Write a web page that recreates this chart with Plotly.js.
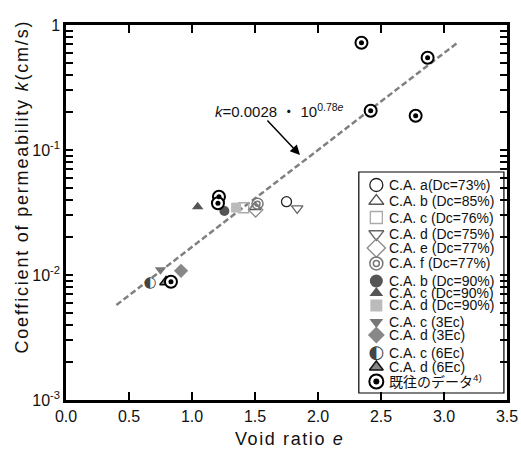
<!DOCTYPE html>
<html><head><meta charset="utf-8">
<script src="https://cdn.plot.ly/plotly-3.0.1.min.js"></script>
<style>html,body{margin:0;padding:0;background:#fff}</style>
</head><body><div id="chart" style="width:521px;height:450px"></div>
<script>
// ---- data (void ratio e, permeability k in cm/s) ----
const e_a73=[1.75],  k_a73=[0.0386];
const e_b85=[1.50],  k_b85=[0.0350];
const e_c76=[1.41],  k_c76=[0.0345];
const e_d75=[1.835], k_d75=[0.0341];
const e_e77=[1.505], k_e77=[0.0332];
const e_f77=[1.52],  k_f77=[0.0372];
const e_b90=[1.257], k_b90=[0.0325];
const e_c90=[1.045], k_c90=[0.0352];
const e_d90=[1.35],  k_d90=[0.0346];
const e_c3=[0.75],   k_c3=[0.0110];
const e_d3=[0.913],  k_d3=[0.0108];
const e_c6=[0.667],  k_c6=[0.0086];
const e_d6=[0.794],  k_d6=[0.0088];
const e_hist=[2.345,2.87,2.418,2.775,1.214,1.206,0.833];
const k_hist=[0.722,0.547,0.206,0.188,0.0423,0.0375,0.00884];
const e_fit=[0.4,3.1], k_fit=[0.00575,0.713];

const seriesNames=['C.A. a(Dc=73%)','C.A. b (Dc=85%)','C.A. c (Dc=76%)','C.A. d (Dc=75%)','C.A. e (Dc=77%)','C.A. f (Dc=77%)','C.A. b (Dc=90%)','C.A. c (Dc=90%)','C.A. d (Dc=90%)','C.A. c (3Ec)','C.A. d (3Ec)','C.A. c (6Ec)','C.A. d (6Ec)','既往のデータ<sup>4)</sup>'];
const xTickVals=[0,0.5,1,1.5,2,2.5,3,3.5];
const yDecades=[0.001,0.01,0.1];
const yDecadeLabels=['10<sup>-3</sup>','10<sup>-2</sup>','10<sup>-1</sup>'];
const yTopLabel='1';
const yMinorDigits=[2,3,4,5,6,7,8,9];
const fitLabel='<i>k</i>=0.0028 ・ 10<sup>0.78<i>e</i></sup>';

// ---- styles ----
const FONT='Liberation Sans, Arial, Noto Sans CJK JP, sans-serif';
const S=[
 {xs:e_a73,ys:k_a73,layers:[{sym:'circle-open',c:'#222',s:10,ls:13,w:1.3}]},
 {xs:e_b85,ys:k_b85,layers:[{sym:'triangle-up-open',c:'#555',s:10,ls:13,w:1.3}]},
 {xs:e_c76,ys:k_c76,layers:[{sym:'square-open',c:'#aaa',s:10,ls:12,w:1.3}]},
 {xs:e_d75,ys:k_d75,layers:[{sym:'triangle-down-open',c:'#666',s:10,ls:13,w:1.3}]},
 {xs:e_e77,ys:k_e77,layers:[{sym:'diamond-open',c:'#888',s:11,ls:14,w:1.3}]},
 {xs:e_f77,ys:k_f77,layers:[{sym:'circle-open',c:'#777',s:11,ls:13,w:1.5},{sym:'circle-open',c:'#777',s:5,ls:6,w:1.5}]},
 {xs:e_b90,ys:k_b90,layers:[{sym:'circle',c:'#555',s:10,ls:13}]},
 {xs:e_c90,ys:k_c90,layers:[{sym:'triangle-up',c:'#555',s:10,ls:12}]},
 {xs:e_d90,ys:k_d90,layers:[{sym:'square',c:'#bbb',s:10,ls:12}]},
 {xs:e_c3,ys:k_c3,layers:[{sym:'triangle-down',c:'#777',s:10,ls:12}]},
 {xs:e_d3,ys:k_d3,layers:[{sym:'diamond',c:'#888',s:11,ls:13}]},
 {xs:e_c6,ys:k_c6,layers:[{txt:'◐',c:'#444',s:15,ls:18}]},
 {xs:e_d6,ys:k_d6,layers:[{sym:'triangle-up',c:'#888',s:11,ls:12,lc:'#111',w:1.5}]},
 {xs:e_hist,ys:k_hist,layers:[{sym:'circle',c:'#fff',s:12,ls:14,lc:'#000',w:2},{sym:'circle',c:'#000',s:5,ls:6}]}
];
// legend layout (pixels inside legend box)
const legendRowPx=[13,29,45.5,62,76,91.5,109,121,133.5,150,163,181.5,195,209.5];
const legendKeyX=17.5, legendTextX=28;

function layerTrace(xs,ys,L,big,xa,ya){
  const size=big?L.ls:L.s;
  if(L.txt){
    return {x:xs,y:ys,xaxis:xa,yaxis:ya,mode:'text',text:xs.map(()=>L.txt),
      textposition:'middle center',textfont:{family:'DejaVu Sans',size:size,color:L.c},
      showlegend:false,hoverinfo:'skip',cliponaxis:false};
  }
  const m={symbol:L.sym,size:size,color:L.c};
  if(L.sym.indexOf('open')>=0) m.line={width:L.w||1.3,color:L.c};
  else if(L.lc) m.line={width:L.w,color:L.lc};
  else m.line={width:0};
  return {x:xs,y:ys,xaxis:xa,yaxis:ya,mode:'markers',marker:m,showlegend:false,hoverinfo:'skip',cliponaxis:false};
}

// y ticks: decades labelled, minor ticks unlabeled
const yTickVals=[], yTickText=[];
yDecades.forEach((d,i)=>{
  yTickVals.push(d); yTickText.push(yDecadeLabels[i]);
  yMinorDigits.forEach(m=>{yTickVals.push(d*m); yTickText.push('');});
});
yTickVals.push(1); yTickText.push(yTopLabel);

const traces=[];
traces.push({x:e_fit,y:k_fit,mode:'lines',line:{color:'#808080',width:2.5,dash:'6px,3px'},showlegend:false,hoverinfo:'skip'});
S.forEach(st=>st.layers.forEach(L=>traces.push(layerTrace(st.xs,st.ys,L,false,'x','y'))));
const annotations=[];
S.forEach((st,i)=>{
  st.layers.forEach(L=>traces.push(layerTrace([legendKeyX],[legendRowPx[i]],L,true,'x2','y2')));
  annotations.push({xref:'x2',yref:'y2',x:legendTextX,y:legendRowPx[i],xanchor:'left',yanchor:'middle',
    text:seriesNames[i],showarrow:false,font:{family:FONT,size:14,color:'#111'}});
});

annotations.push({xref:'paper',yref:'paper',x:0.483,y:0.772,xanchor:'center',yanchor:'middle',showarrow:false,
  text:fitLabel,font:{family:FONT,size:15,color:'#111'}});
annotations.push({xref:'x',yref:'y',x:1.857,y:-1.04,ax:-34,ay:-36,text:'',showarrow:true,arrowhead:2,arrowsize:1.3,arrowwidth:1.5,arrowcolor:'#000'});
annotations.push({xref:'paper',yref:'paper',x:0.506,y:-0.105,xanchor:'center',yanchor:'middle',showarrow:false,
  text:'<span style="letter-spacing:1.6px">Void ratio <i>e</i></span>',font:{family:FONT,size:18,color:'#111'}});
annotations.push({xref:'paper',yref:'paper',x:-0.1,y:0.569,xanchor:'center',yanchor:'middle',showarrow:false,textangle:-90,
  text:'<span style="letter-spacing:1.8px">Coefficient of permeability <i>k</i>(cm/s)</span>',font:{family:FONT,size:18,color:'#111'}});

const layout={
  width:521,height:450,margin:{l:66,r:14,t:25,b:50},
  paper_bgcolor:'#fff',plot_bgcolor:'rgba(0,0,0,0)',showlegend:false,
  font:{family:FONT,color:'#111'},
  xaxis:{range:[0,3.5],tickvals:xTickVals,tickformat:'.1f',ticks:'inside',ticklen:8,tickwidth:1.5,tickcolor:'#000',
    showline:true,linewidth:2.5,linecolor:'#000',mirror:'allticks',showgrid:false,zeroline:false,
    tickfont:{family:FONT,size:16,color:'#111'}},
  yaxis:{type:'log',range:[-3,0],tickmode:'array',tickvals:yTickVals,ticktext:yTickText,ticks:'inside',ticklen:7,tickwidth:1.5,tickcolor:'#000',
    showline:true,linewidth:2.5,linecolor:'#000',mirror:'allticks',showgrid:false,zeroline:false,
    tickfont:{family:FONT,size:16,color:'#111'}},
  xaxis2:{domain:[0.664,0.993],anchor:'y2',range:[0,145],visible:false,fixedrange:true},
  yaxis2:{domain:[0.0187,0.608],anchor:'x2',range:[221,0],visible:false,fixedrange:true},
  shapes:[{type:'rect',xref:'x2 domain',yref:'y2 domain',x0:0,x1:1,y0:0,y1:1,line:{color:'#000',width:1.2},fillcolor:'#fff',layer:'below'}],
  annotations:annotations
};
Plotly.newPlot('chart',traces,layout,{displayModeBar:false});
</script></body></html>
